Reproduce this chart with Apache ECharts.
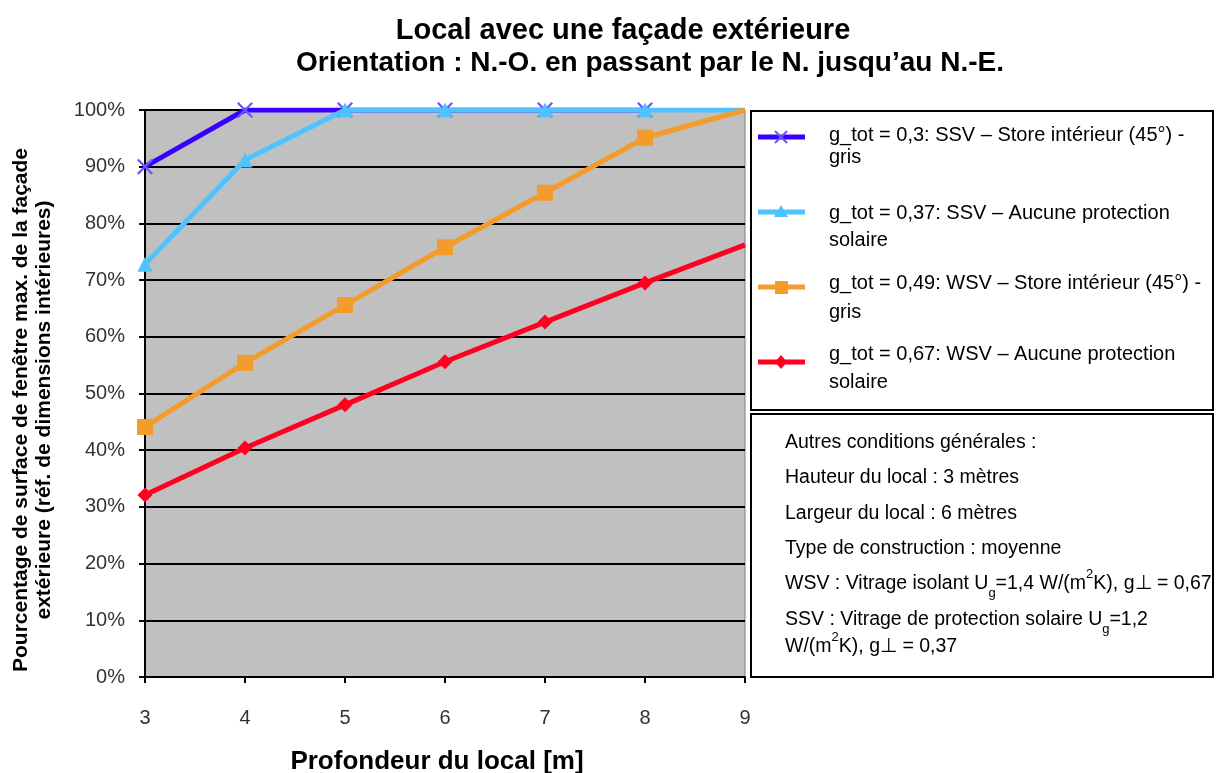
<!DOCTYPE html>
<html>
<head>
<meta charset="utf-8">
<script src="https://cdn.jsdelivr.net/npm/echarts@6/dist/echarts.min.js"></script>
<style>html,body{margin:0;padding:0;background:#fff}#c{width:1216px;height:773px}</style>
</head>
<body>
<div id="c"></div>
<script>
const depths = [3, 4, 5, 6, 7, 8, 9];
const seriesNames = [
  'g_tot = 0,3: SSV \u2013 Store int\u00e9rieur (45\u00b0) - gris',
  'g_tot = 0,37: SSV \u2013 Aucune protection solaire',
  'g_tot = 0,49: WSV \u2013 Store int\u00e9rieur (45\u00b0) - gris',
  'g_tot = 0,67: WSV \u2013 Aucune protection solaire'
];
const ssvStore = [90, 100, 100, 100, 100, 100, null];
const ssvNone = [72.8, 91.2, 100, 100, 100, 100, 100];
const wsvStore = [44.1, 55.4, 65.6, 75.8, 85.4, 95.1, 100];
const wsvNone = [32.1, 40.4, 48.0, 55.6, 62.6, 69.5, 76.2];

const colors = ['#3a00ff', '#4dc3ff', '#f39b2b', '#ff0020'];
const markerColors = ['#6a55ff', '#4dc3ff', '#f39b2b', '#ff0020'];
const xPath = 'path://M0,1L1,0L5,4L9,0L10,1L6,5L10,9L9,10L5,6L1,10L0,9L4,5Z';
const symbols = [xPath, 'triangle', 'rect', 'diamond'];
const symbolSizes = [16, 15, 16, 15];
const allValues = [ssvStore, ssvNone, wsvStore, wsvNone];

const FONT = '"Liberation Sans", Arial, sans-serif';

function buildData(vals) {
  return vals.map((v, i) => {
    const item = { value: [depths[i], v] };
    if (i === depths.length - 1) item.symbol = 'none';
    return item;
  });
}

const series = allValues.map((vals, k) => ({
  name: seriesNames[k],
  type: 'line',
  data: buildData(vals),
  symbol: symbols[k],
  symbolSize: symbolSizes[k],
  showAllSymbol: true,
  connectNulls: false,
  lineStyle: { color: colors[k], width: 5 },
  itemStyle: { color: markerColors[k], borderWidth: 0 },
  emphasis: { disabled: true },
  clip: true,
  animation: false
}));

const legendY = [137, 212, 287, 362];
const legendText = [
  ['g_tot = 0,3: SSV \u2013 Store int\u00e9rieur (45\u00b0) -', 'gris'],
  ['g_tot = 0,37: SSV \u2013 Aucune protection', 'solaire'],
  ['g_tot = 0,49: WSV \u2013 Store int\u00e9rieur (45\u00b0) -', 'gris'],
  ['g_tot = 0,67: WSV \u2013 Aucune protection', 'solaire']
];
const legendTextY = [[135, 157], [213, 240], [283, 312], [354, 382]];
const graphics = [];
graphics.push({ type: 'rect', shape: { x: 751, y: 111, width: 462, height: 299 }, style: { fill: '#fff', stroke: '#000', lineWidth: 2 }, z: 10 });
graphics.push({ type: 'rect', shape: { x: 751, y: 414, width: 462, height: 263 }, style: { fill: '#fff', stroke: '#000', lineWidth: 2 }, z: 10 });
legendY.forEach((y, k) => {
  graphics.push({ type: 'line', shape: { x1: 758, y1: y, x2: 805, y2: y }, style: { stroke: colors[k], lineWidth: 5 }, z: 11 });
  legendText[k].forEach((t, j) => {
    graphics.push({ type: 'text', x: 829, y: legendTextY[k][j], style: { text: t, font: '20px ' + FONT, fill: '#000', textVerticalAlign: 'middle' }, z: 11 });
  });
});
const mk = [
  { type: 'line', shape: { x1: 775, y1: 131, x2: 787, y2: 143 }, style: { stroke: markerColors[0], lineWidth: 2 } },
  { type: 'line', shape: { x1: 787, y1: 131, x2: 775, y2: 143 }, style: { stroke: markerColors[0], lineWidth: 2 } },
  { type: 'polygon', shape: { points: [[781, 205], [788, 217], [774, 217]] }, style: { fill: colors[1] } },
  { type: 'rect', shape: { x: 775, y: 281, width: 13, height: 13 }, style: { fill: colors[2] } },
  { type: 'polygon', shape: { points: [[781, 355], [787, 362], [781, 369], [775, 362]] }, style: { fill: colors[3] } }
];
mk.forEach(m => { m.z = 12; graphics.push(m); });

const infoLines = [
  { y: 443, t: 'Autres conditions g\u00e9n\u00e9rales :' },
  { y: 478, t: 'Hauteur du local : 3 m\u00e8tres' },
  { y: 514, t: 'Largeur du local : 6 m\u00e8tres' },
  { y: 549, t: 'Type de construction : moyenne' },
  { y: 584, t: 'WSV : Vitrage isolant U{sub|g}=1,4 W/(m{sup|2}K), g\u22a5 = 0,67' },
  { y: 620, t: 'SSV : Vitrage de protection solaire U{sub|g}=1,2' },
  { y: 647, t: 'W/(m{sup|2}K), g\u22a5 = 0,37' }
];
infoLines.forEach(l => {
  graphics.push({
    type: 'text', x: 785, y: l.y, z: 11,
    style: {
      text: l.t, font: '19.5px ' + FONT, fill: '#000', textVerticalAlign: 'middle',
      rich: {
        sub: { fontSize: 13, fontFamily: FONT, fill: '#000', verticalAlign: 'bottom', lineHeight: 10, padding: [0, 0, -6, 0] },
        sup: { fontSize: 13, fontFamily: FONT, fill: '#000', verticalAlign: 'top', lineHeight: 10, padding: [-6, 0, 0, 0] }
      }
    }
  });
});

graphics.push({
  type: 'text', x: 33, y: 410, rotation: Math.PI / 2, z: 11,
  style: {
    text: 'Pourcentage de surface de fen\u00eatre max. de la fa\u00e7ade\next\u00e9rieure (r\u00e9f. de dimensions int\u00e9rieures)',
    font: 'bold 21px ' + FONT, fill: '#000', textAlign: 'center', textVerticalAlign: 'middle', lineHeight: 23
  }
});

const chart = echarts.init(document.getElementById('c'), null, { renderer: 'canvas' });
chart.setOption({
  animation: false,
  backgroundColor: '#fff',
  title: [
    { text: 'Local avec une fa\u00e7ade ext\u00e9rieure', left: 618, top: 11, textAlign: 'center',
      textStyle: { fontFamily: FONT, fontWeight: 'bold', fontSize: 29, color: '#000' } },
    { text: 'Orientation : N.-O. en passant par le N. jusqu\u2019au N.-E.', left: 645, top: 44, textAlign: 'center',
      textStyle: { fontFamily: FONT, fontWeight: 'bold', fontSize: 28, color: '#000' } }
  ],
  grid: { left: 145, right: 471, top: 110, bottom: 96, outerBoundsMode: 'none', containLabel: false, show: true, backgroundColor: '#c0c0c0', borderColor: '#808080', borderWidth: 1 },
  xAxis: {
    type: 'value', min: 3, max: 9, interval: 1,
    name: 'Profondeur du local [m]', nameLocation: 'middle', nameGap: 72,
    nameTextStyle: { fontFamily: FONT, fontWeight: 'bold', fontSize: 26, color: '#000', padding: [0, 16, 0, 0] },
    axisLine: { show: true, onZero: false, lineStyle: { color: '#000', width: 2 } },
    axisTick: { show: true, length: 6, lineStyle: { color: '#000', width: 2 } },
    axisLabel: { fontFamily: FONT, fontSize: 20, color: '#333', margin: 31 },
    splitLine: { show: false }
  },
  yAxis: {
    type: 'value', min: 0, max: 100, interval: 10,
    axisLine: { show: true, lineStyle: { color: '#000', width: 2 } },
    axisTick: { show: true, length: 6, lineStyle: { color: '#000', width: 2 } },
    axisLabel: { fontFamily: FONT, fontSize: 20, color: '#333', margin: 20, formatter: v => v + '%' },
    splitLine: { show: true, lineStyle: { color: '#000', width: 2 } }
  },
  series: series,
  graphic: graphics
});
</script>
</body>
</html>
